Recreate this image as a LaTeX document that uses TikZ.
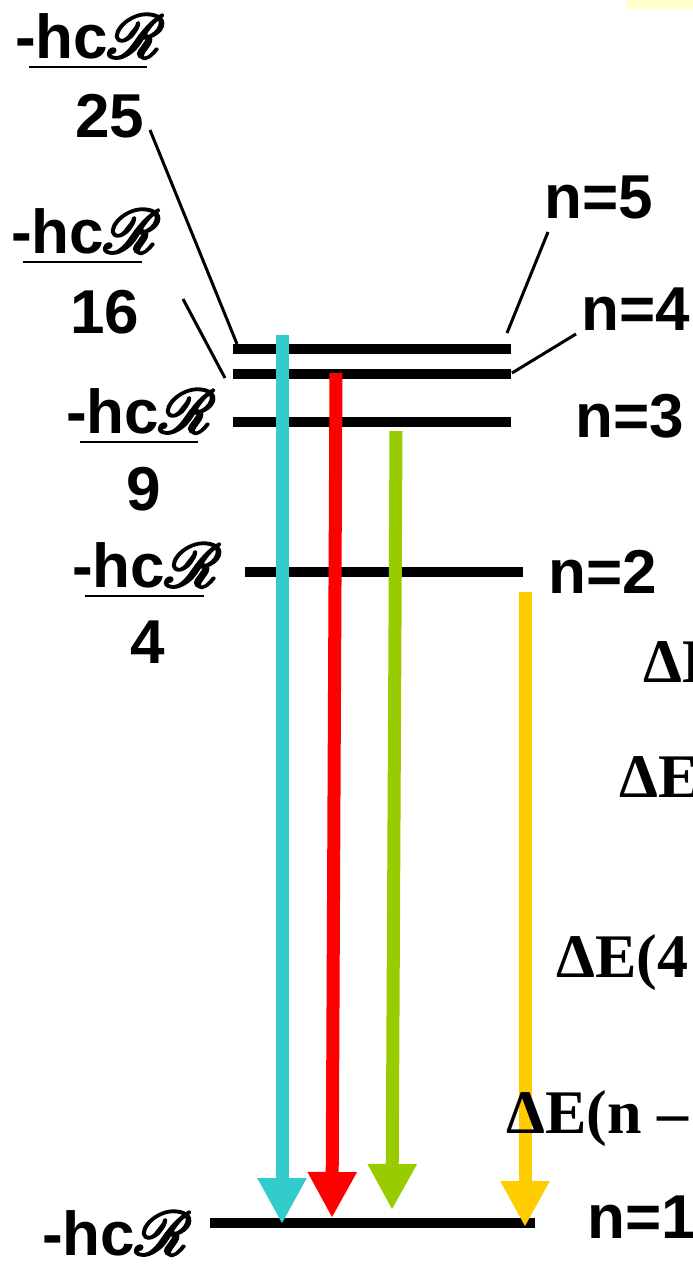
\documentclass[tikz,border=0pt]{standalone}
\usepackage{fontspec}
\usetikzlibrary{arrows.meta}
\newfontfamily\sansf{Liberation Sans}
\newfontfamily\seriff{Liberation Serif}
\DeclareFontFamily{U}{myrsfs}{\skewchar\font'177}
\DeclareFontShape{U}{myrsfs}{m}{n}{<-> rsfs10}{}
\newcommand{\scrR}{{\special{pdf:literal direct 2 Tr 2.4 w}\usefont{U}{myrsfs}{m}{n}R\special{pdf:literal direct 0 Tr}}}
\definecolor{cyanarr}{HTML}{33CCCC}
\definecolor{redarr}{HTML}{FF0000}
\definecolor{greenarr}{HTML}{99CC00}
\definecolor{yellowarr}{HTML}{FFCC00}
\definecolor{paleyellow}{HTML}{FFFFCC}
\tikzset{
  lbl/.style={anchor=base west, inner sep=0pt, font=\fontsize{62}{70}\selectfont\sansf\bfseries},
  de/.style={anchor=base west, inner sep=0pt, font=\fontsize{62}{70}\selectfont\seriff\bfseries},
  level/.style={line width=10.5pt},
  conn/.style={line width=3pt},
  uline/.style={line width=2.5pt},
  trans/.style={line width=13pt, -{Triangle[width=46pt,length=46pt]}},
}
\begin{document}
\begin{tikzpicture}[x=1pt,y=-1pt]
\useasboundingbox (0,0) rectangle (693,1264);
\clip (0,0) rectangle (693,1264);
\fill[paleyellow] (626,0) rectangle (693,9);

% left labels
\node[lbl] (l5) at (15,58) {-hc\scrR};
\draw[uline] (29,67) -- (147,67);
\node[lbl] (d5) at (75,137) {25};
\node[lbl] (l4) at (11,253) {-hc\scrR};
\draw[uline] (23,262) -- (142,262);
\node[lbl] (d4) at (70,333) {16};
\node[lbl] (l3) at (66,433) {-hc\scrR};
\draw[uline] (80,442) -- (198,442);
\node[lbl] (d3) at (126,510) {9};
\node[lbl] (l2) at (72,587) {-hc\scrR};
\draw[uline] (85,596) -- (204,596);
\node[lbl] (d2) at (130,663) {4};
\node[lbl] (l1) at (42,1255) {-hc\scrR};

% right labels
\node[lbl] (n5) at (544,218) {n=5};
\node[lbl] (n4) at (581,330) {n=4};
\node[lbl] (n3) at (575,437) {n=3};
\node[lbl] (n2) at (548,593) {n=2};
\node[lbl] (n1) at (587,1238) {n=1};

% levels
\coordinate (v5w) at (233,349); \coordinate (v5e) at (511,349);
\coordinate (v4w) at (233,374); \coordinate (v4e) at (511,374);
\coordinate (v3w) at (233,422); \coordinate (v3e) at (511,422);
\coordinate (v2w) at (245,572); \coordinate (v2e) at (523,572);
\coordinate (v1w) at (210,1223); \coordinate (v1e) at (535,1223);
\draw[level] (v5w) -- (v5e);
\draw[level] (v4w) -- (v4e);
\draw[level] (v3w) -- (v3e);
\draw[level] (v2w) -- (v2e);
\draw[level] (v1w) -- (v1e);

% connectors
\coordinate (c25) at (150,130); \coordinate (c25b) at (237,344);
\coordinate (c16) at (183,299); \coordinate (c16b) at (225,378);
\coordinate (cn5) at (548,232); \coordinate (cn5b) at (507,333);
\coordinate (cn4) at (576,334); \coordinate (cn4b) at (512,373);
\draw[conn] (c25) -- (c25b);
\draw[conn] (c16) -- (c16b);
\draw[conn] (cn5) -- (cn5b);
\draw[conn] (cn4) -- (cn4b);

% transitions
\coordinate (a5s) at (282,335); \coordinate (a5t) at (282,1224);
\coordinate (a4s) at (336,373); \coordinate (a4t) at (332,1218);
\coordinate (a3s) at (396,431); \coordinate (a3t) at (392,1210);
\coordinate (a2s) at (525,592); \coordinate (a2t) at (525,1227);
\draw[trans, cyanarr] (a5s) -- (a5t);
\draw[trans, redarr] (a4s) -- (a4t);
\draw[trans, greenarr] (a3s) -- (a3t);
\draw[trans, yellowarr] (a2s) -- (a2t);

% Delta E labels (on top of the arrows)
\node[de] (e1) at (643,682) {ΔE(2 → 1)};
\node[de] (e2) at (619,797) {ΔE(3 → 1)};
\node[de] (e3) at (556,977) {ΔE(4 → 1)};
\node[de] (e4) at (506,1133) {ΔE(n – 1)};
\end{tikzpicture}
\end{document}
